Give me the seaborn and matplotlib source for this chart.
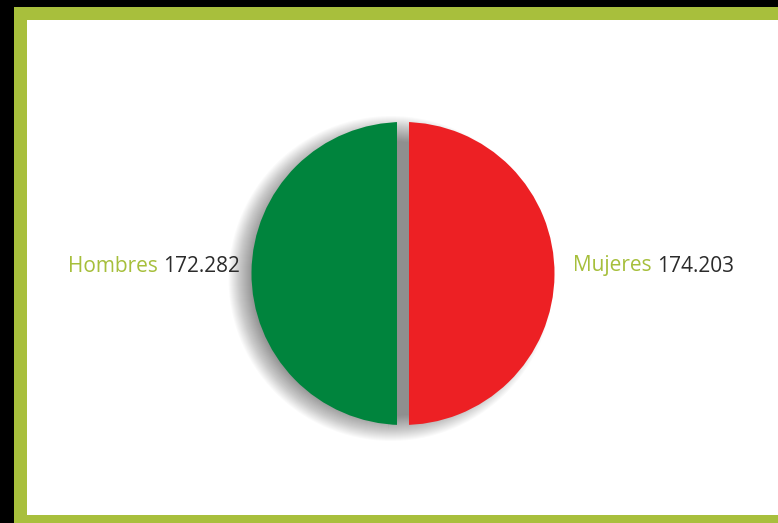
import matplotlib
matplotlib.use("Agg")
import matplotlib.pyplot as plt
import seaborn as sns
from matplotlib.patches import Rectangle

categories = ["Hombres", "Mujeres"]
values = [172282, 174203]
value_labels = ["172.282", "174.203"]
slice_colors = ["#00843d", "#ed2024"]

sns.set_theme(style="white")
plt.rcParams['font.family'] = ['Open Sans', 'DejaVu Sans']

W, H = 778, 523
fig = plt.figure(figsize=(W / 100, H / 100), dpi=100, facecolor="black")
ax = fig.add_axes([0, 0, 1, 1])
ax.set_xlim(0, W)
ax.set_ylim(0, H)

border = "#a8bf3c"
ax.add_patch(Rectangle((14, 0), W - 14, H - 7, facecolor=border, edgecolor="none", zorder=0))
ax.add_patch(Rectangle((27, 8), W - 27, H - 20 - 8, facecolor="white", edgecolor="none", zorder=0))

cx, cy, r = 403, H - 273.5, 151.5
half_gap = 6

# soft shadow: stacked translucent copies of the pie, offset left/down
for k in range(-14, 12):
    ax.pie(values, colors=["#000000"] * 2, startangle=90,
           counterclock=True, radius=r + k, center=(cx - 12, cy - 5),
           wedgeprops=dict(alpha=0.02, linewidth=0), frame=True)

wedges, _ = ax.pie(values, colors=slice_colors, startangle=90,
                   counterclock=True, radius=r, center=(cx, cy),
                   wedgeprops=dict(linewidth=0), frame=True)
ax.set_xlim(0, W)
ax.set_ylim(0, H)
ax.set_aspect("equal")
ax.axis("off")

# cut a vertical strip between the two halves
clip_left = Rectangle((0, 0), cx - half_gap, H, transform=ax.transData)
clip_right = Rectangle((cx + half_gap, 0), W, H, transform=ax.transData)
for w, c in zip(wedges, [clip_left, clip_right]):
    w.set_clip_on(True)
    w.set_clip_path(c)

fs = 15
label_green = "#a6bf3b"
num_col = "#2b2b2b"
ty = H - 266

# left label: number right-aligned, category before it
t_num = ax.text(240, ty, value_labels[0], ha="right", va="center", fontsize=fs, color=num_col)
ax.annotate(categories[0], xy=(0, 0.5), xycoords=t_num, xytext=(-4, 0),
            textcoords="offset points", ha="right", va="center", fontsize=fs, color=label_green)

# right label: category then number
t_cat = ax.text(573, ty, categories[1], ha="left", va="center", fontsize=fs, color=label_green)
ax.annotate(value_labels[1], xy=(1, 0.5), xycoords=t_cat, xytext=(4, 0),
            textcoords="offset points", ha="left", va="center", fontsize=fs, color=num_col)

fig.savefig("out.png", dpi=100, facecolor="black")
